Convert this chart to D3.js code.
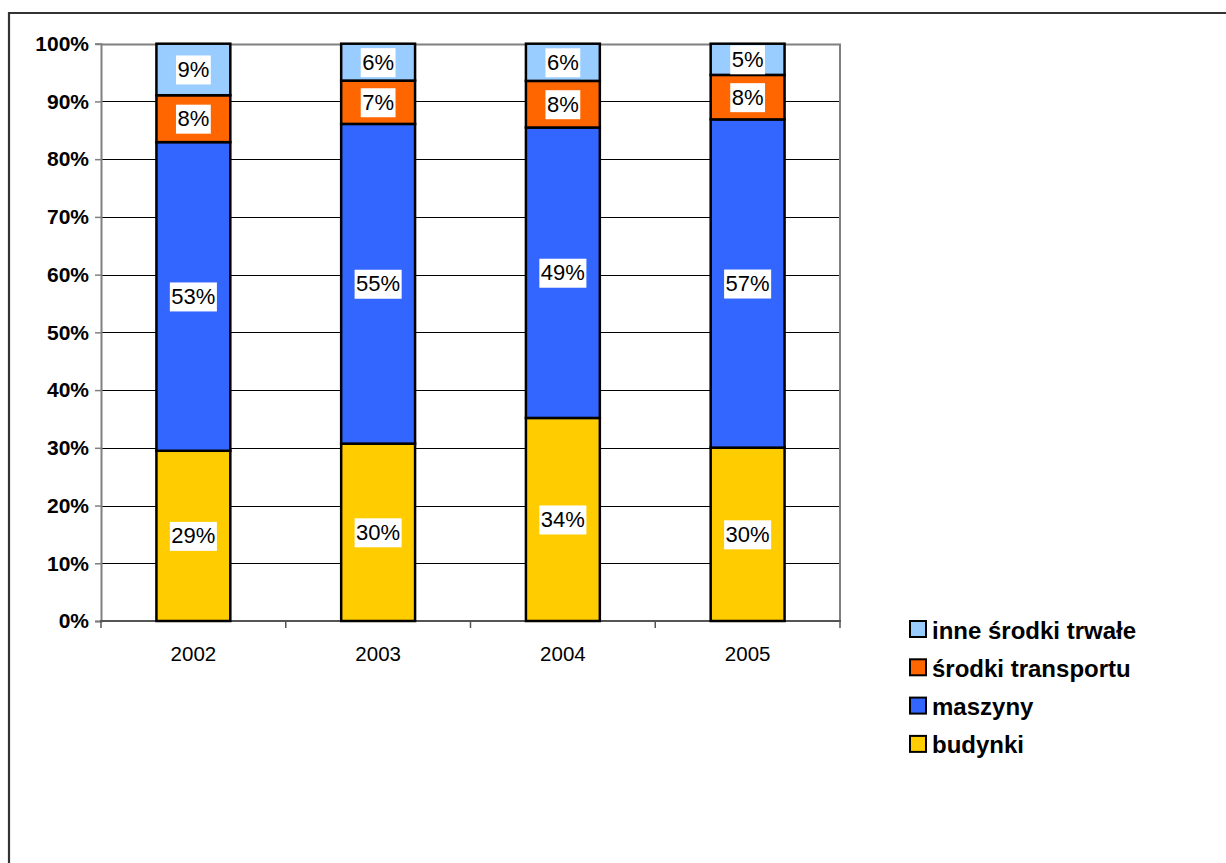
<!DOCTYPE html>
<html><head><meta charset="utf-8">
<script src="https://cdn.jsdelivr.net/npm/d3@7"></script>
<style>html,body{margin:0;padding:0;background:#fff;}svg{display:block;font-family:Arial,"Liberation Sans",sans-serif;}</style>
</head><body>
<svg id="chart" width="1226" height="863"></svg>
<script>
const years = ["2002", "2003", "2004", "2005"];
const seriesNames = ["budynki", "maszyny", "środki transportu", "inne środki trwałe"];
const budynki = [29.4, 30.3, 34.4, 30.0];
const maszyny = [53.3, 54.6, 49.2, 56.8];
const transport = [8.1, 7.4, 7.9, 7.7];
const inne = [8.9, 6.3, 6.3, 5.4];
const colors = ["#FFCC00", "#3366FF", "#FF6600", "#99CCFF"];
const yTicks = [0, 0.1, 0.2, 0.3, 0.4, 0.5, 0.6, 0.7, 0.8, 0.9, 1.0];

(function () {
const seriesValues = [budynki, maszyny, transport, inne];
const rows = years.map((yr, i) => {
  const r = {year: yr};
  seriesNames.forEach((s, k) => r[s] = seriesValues[k][i]);
  return r;
});
const stack = d3.stack().keys(seriesNames).offset(d3.stackOffsetExpand);
const stacked = stack(rows);
const FONT = "Arial, 'Liberation Sans', sans-serif";

const svg = d3.select("#chart");
// outer frame
svg.append("path").attr("d", "M9,870 L9,13 L1230,13")
  .attr("fill", "none").attr("stroke", "#333").attr("stroke-width", 2.2);

const pLeft = 101, pRight = 840, pTop = 43.7, pBottom = 621;
const x = d3.scaleBand().domain(years).range([pLeft, pRight]).paddingInner(0.6).paddingOuter(0.3);
const xb = d3.scaleBand().domain(years).range([pLeft, pRight]);
const y = d3.scaleLinear().domain([0, 1]).range([pBottom, pTop]);

// gridlines
svg.append("g").selectAll("line").data(yTicks.filter(t => t > 0 && t < 1)).join("line")
  .attr("x1", pLeft).attr("x2", pRight)
  .attr("y1", d => Math.round(y(d)) + 0.5).attr("y2", d => Math.round(y(d)) + 0.5)
  .attr("stroke", "#000").attr("stroke-width", 1);
// plot frame (gray)
svg.append("path")
  .attr("d", `M${pLeft},${Math.round(pTop)+0.5} L${pRight},${Math.round(pTop)+0.5} L${pRight},${pBottom}`)
  .attr("fill", "none").attr("stroke", "#808080").attr("stroke-width", 2);

// y axis
const yAxis = d3.axisLeft(y).tickValues(yTicks).tickFormat(d3.format(".0%")).tickSize(6).tickPadding(6);
const ga = svg.append("g").attr("transform", `translate(${pLeft},0)`).call(yAxis);
ga.select(".domain").attr("stroke", "#808080").attr("stroke-width", 2);
ga.selectAll(".tick line").attr("stroke", "#808080").attr("stroke-width", 1.5);
ga.selectAll(".tick text").attr("font-size", 21).attr("font-weight", "bold")
  .attr("font-family", FONT).attr("fill", "#000");

// x axis
const xAxis = d3.axisBottom(x).tickSize(0).tickPadding(25);
const gx = svg.append("g").attr("transform", `translate(0,${pBottom})`).call(xAxis);
gx.select(".domain").remove();
gx.selectAll(".tick text").attr("font-size", 20.5)
  .attr("font-family", FONT).attr("fill", "#000");
svg.append("line").attr("x1", pLeft - 1).attr("x2", pRight + 1).attr("y1", pBottom).attr("y2", pBottom)
  .attr("stroke", "#555").attr("stroke-width", 2);
const bounds = years.map(d => xb(d)).concat([pRight]);
svg.append("g").selectAll("line").data(bounds).join("line")
  .attr("x1", d => d).attr("x2", d => d).attr("y1", pBottom).attr("y2", pBottom + 7)
  .attr("stroke", "#555").attr("stroke-width", 1.5);

// bars
const layers = svg.append("g").selectAll("g").data(stacked).join("g")
  .attr("fill", (d, i) => colors[i]);
layers.selectAll("rect").data(d => d).join("rect")
  .attr("x", d => x(d.data.year))
  .attr("width", x.bandwidth())
  .attr("y", d => y(d[1]))
  .attr("height", d => y(d[0]) - y(d[1]))
  .attr("stroke", "#000").attr("stroke-width", 2.5);

// labels
const labG = svg.append("g");
stacked.forEach((layer, k) => {
  layer.forEach((d, i) => {
    const cx = x(d.data.year) + x.bandwidth() / 2;
    const cy = (y(d[0]) + y(d[1])) / 2;
    const txt = Math.round(seriesValues[k][i]) + "%";
    const g = labG.append("g");
    const t = g.append("text").attr("x", cx).attr("y", cy).attr("text-anchor", "middle")
      .attr("dominant-baseline", "central").attr("font-size", 22)
      .attr("font-family", FONT).attr("fill", "#000").text(txt);
    const bb = t.node().getBBox();
    g.insert("rect", "text").attr("x", bb.x - 1.5).attr("y", cy - 14).attr("width", bb.width + 3)
      .attr("height", 29).attr("fill", "#fff");
  });
});

// legend
const legendItems = seriesNames.map((s, i) => ({name: s, color: colors[i]})).reverse();
const lg = svg.append("g").attr("transform", "translate(909,629)");
const li = lg.selectAll("g").data(legendItems).join("g")
  .attr("transform", (d, i) => `translate(0,${i * 38.3})`);
li.append("rect").attr("x", 1).attr("y", -8).attr("width", 16).attr("height", 16)
  .attr("fill", d => d.color).attr("stroke", "#000").attr("stroke-width", 2);
li.append("text").attr("x", 23).attr("y", 1).attr("dominant-baseline", "central")
  .attr("font-size", 24).attr("font-weight", "bold")
  .attr("font-family", FONT).attr("fill", "#000")
  .text(d => d.name);
})();
</script>
</body></html>
